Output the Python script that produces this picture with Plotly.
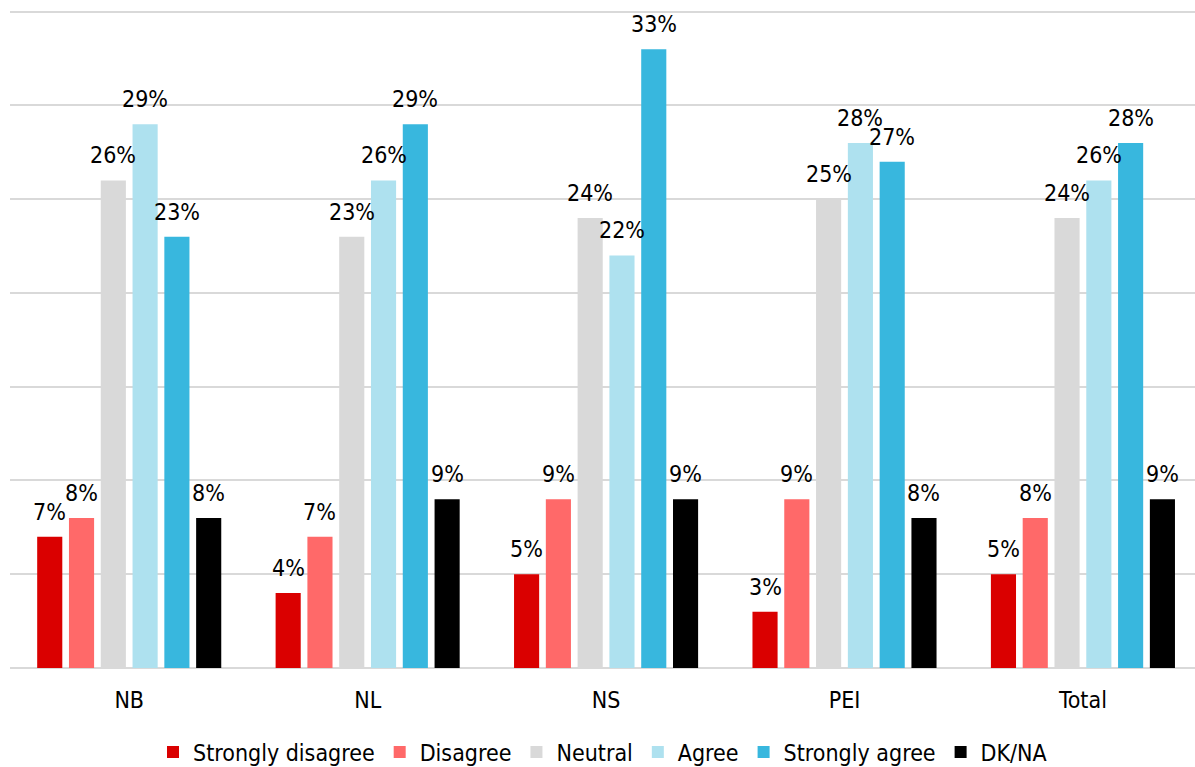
import plotly.graph_objects as go

# Survey responses by province (percent of respondents)
regions = ["NB", "NL", "NS", "PEI", "Total"]
responses = ["Strongly disagree", "Disagree", "Neutral", "Agree", "Strongly agree", "DK/NA"]

strongly_disagree = [7, 4, 5, 3, 5]
disagree = [8, 7, 9, 9, 8]
neutral = [26, 23, 24, 25, 24]
agree = [29, 26, 22, 28, 26]
strongly_agree = [23, 29, 33, 27, 28]
dk_na = [8, 9, 9, 8, 9]

series = [strongly_disagree, disagree, neutral, agree, strongly_agree, dk_na]
colors = ["#DA0000", "#FF6969", "#D9D9D9", "#AEE1EF", "#38B7DE", "#000000"]

FONT = "DejaVu Sans Condensed, DejaVu Sans, sans-serif"
FS = 23
W, H = 1195, 767
M_L, M_R, M_T, M_B = 10, 0, 6, 99
X_RANGE = [-0.5, 4.47]
Y_RANGE = [0, 35.3]
BARGAP = 0.2

fig = go.Figure()
for name, vals, col in zip(responses, series, colors):
    fig.add_trace(go.Bar(
        name=name, x=regions, y=vals,
        marker=dict(color=col, line=dict(width=0)),
        hoverinfo="skip",
    ))

# value labels above each bar, offset horizontally to the bar's slot in the group
plot_w = W - M_L - M_R
cat_px = plot_w / (X_RANGE[1] - X_RANGE[0])
slot_px = cat_px * (1 - BARGAP) / len(series)
annotations = []
for i, vals in enumerate(series):
    dx = (i - (len(series) - 1) / 2) * slot_px
    for reg, v in zip(regions, vals):
        annotations.append(dict(
            x=reg, y=v, xref="x", yref="y", text=f"{v}%",
            showarrow=False, xanchor="center", yanchor="bottom",
            xshift=dx, yshift=10,
            font=dict(family=FONT, size=FS, color="#000000"),
        ))

fig.update_layout(
    width=W, height=H,
    margin=dict(l=M_L, r=M_R, t=M_T, b=M_B, autoexpand=False),
    plot_bgcolor="white", paper_bgcolor="white",
    barmode="group", bargap=BARGAP, bargroupgap=0.21,
    font=dict(family=FONT, size=FS, color="#000000"),
    showlegend=True,
    legend=dict(
        orientation="h", x=0.5, xanchor="center", y=-0.127, yanchor="middle",
        font=dict(family=FONT, size=FS), itemwidth=30,
        traceorder="normal",
    ),
    annotations=annotations,
)
fig.update_xaxes(
    range=X_RANGE, showgrid=False, showline=False, ticks="",
    tickfont=dict(family=FONT, size=FS), ticklabelstandoff=16,
)
fig.update_yaxes(
    range=Y_RANGE, tick0=0, dtick=5, showticklabels=False,
    showgrid=True, gridcolor="#D9D9D9", gridwidth=2,
    zeroline=True, zerolinecolor="#D9D9D9", zerolinewidth=2,
    showline=False,
)

fig.write_html("out.html")
